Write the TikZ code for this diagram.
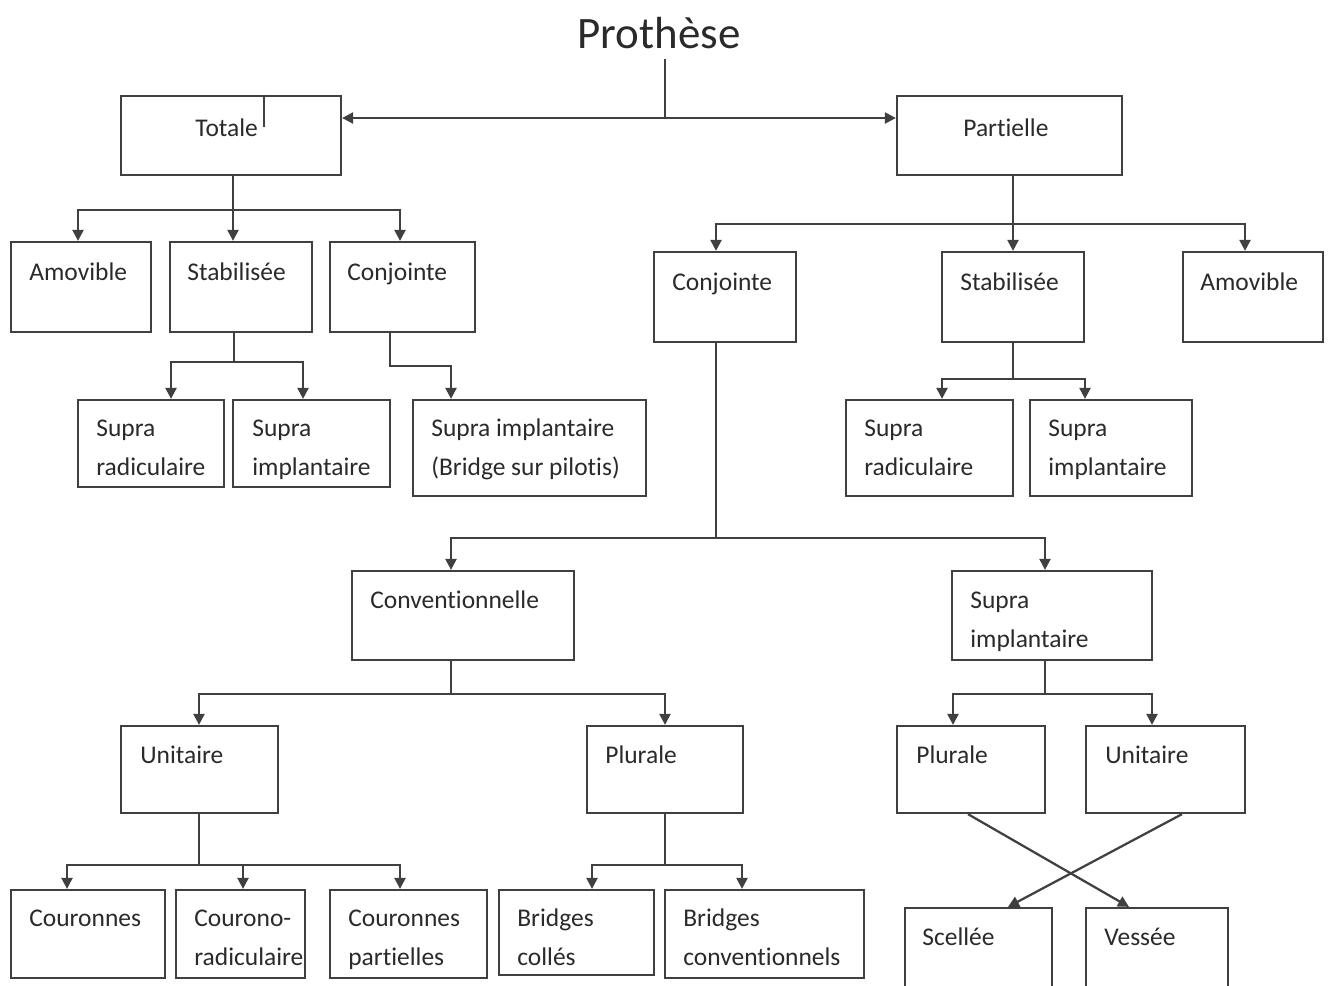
\documentclass[tikz,border=0pt]{standalone}
\usepackage{fontspec}
\setmainfont{Carlito}[Ligatures={NoCommon,NoContextual,NoRare},RawFeature={-liga;-clig;-dlig}]
\usetikzlibrary{arrows.meta,fit}
\definecolor{linec}{HTML}{404040}
\definecolor{txtc}{HTML}{2A2A2A}
\begin{document}
\begin{tikzpicture}[x=0.02cm,y=-0.02cm,
  box/.style={draw=linec,line width=0.045cm,inner sep=0pt,rectangle},
  lbl/.style={font=\fontsize{14.5}{22.1}\selectfont,text=txtc,inner sep=0pt,align=left,anchor=base west},
  conn/.style={draw=linec,line width=0.045cm},
  arr/.style={conn,-{Triangle[length=0.22cm,width=0.22cm]}}]
\useasboundingbox (0,0) rectangle (1331,985);
\clip (0,0) rectangle (1331,985);

% title
\node[font=\fontsize{25.6}{30}\selectfont,text=txtc,inner xsep=0pt,inner ysep=0.2cm,anchor=base] (ttl) at (659,48) {Prothèse};

% boxes
\node[box,fit={(121,96) (341,175)}] (tot) {};
\node[box,fit={(897,96) (1122,175)}] (par) {};
\node[box,fit={(11,242) (151,332)}] (amoL) {};
\node[box,fit={(170,242) (312,332)}] (stbL) {};
\node[box,fit={(330,242) (475,332)}] (cjL) {};
\node[box,fit={(78,400) (224,487)}] (srL) {};
\node[box,fit={(233,400) (390,487)}] (siL) {};
\node[box,fit={(413,400) (646,496)}] (bsp) {};
\node[box,fit={(654,252) (796,342)}] (cjR) {};
\node[box,fit={(942,252) (1084,342)}] (stbR) {};
\node[box,fit={(1183,252) (1323,342)}] (amoR) {};
\node[box,fit={(846,400) (1013,496)}] (srR) {};
\node[box,fit={(1030,400) (1192,496)}] (siR) {};
\node[box,fit={(352,571) (574,660)}] (conv) {};
\node[box,fit={(952,571) (1152,660)}] (simp) {};
\node[box,fit={(121,726) (278,813)}] (unL) {};
\node[box,fit={(587,726) (743,813)}] (plL) {};
\node[box,fit={(897,726) (1045,813)}] (plR) {};
\node[box,fit={(1086,726) (1245,813)}] (unR) {};
\node[box,fit={(11,890) (165,978)}] (cou) {};
\node[box,fit={(176,890) (305,978)}] (crr) {};
\node[box,fit={(330,890) (487,978)}] (cpa) {};
\node[box,fit={(499,890) (654,975)}] (bco) {};
\node[box,fit={(665,890) (864,978)}] (bcv) {};
\node[box,fit={(905,908) (1052,1010)}] (sce) {};
\node[box,fit={(1086,908) (1228,1010)}] (ves) {};

% labels (multi-line: anchor is the baseline of the last line)
\node[lbl] (totT) at (195,136) {Totale};
\node[lbl] (parT) at (963,136) {Partielle};
\node[lbl] (amoLT) at (29,280) {Amovible};
\node[lbl] (stbLT) at (187,280) {Stabilisée};
\node[lbl] (cjLT) at (347,280) {Conjointe};
\node[lbl] (srLT) at (96,475) {Supra\\radiculaire};
\node[lbl] (siLT) at (252,475) {Supra\\implantaire};
\node[lbl] (bspT) at (431,475) {Supra implantaire\\(Bridge sur pilotis)};
\node[lbl] (cjRT) at (672,290) {Conjointe};
\node[lbl] (stbRT) at (960,290) {Stabilisée};
\node[lbl] (amoRT) at (1200,290) {Amovible};
\node[lbl] (srRT) at (864,475) {Supra\\radiculaire};
\node[lbl] (siRT) at (1048,475) {Supra\\implantaire};
\node[lbl] (convT) at (370,608) {Conventionnelle};
\node[lbl] (simpT) at (970,647) {Supra\\implantaire};
\node[lbl] (unLT) at (140,763) {Unitaire};
\node[lbl] (plLT) at (605,763) {Plurale};
\node[lbl] (plRT) at (916,763) {Plurale};
\node[lbl] (unRT) at (1105,763) {Unitaire};
\node[lbl] (couT) at (29,926) {Couronnes};
\node[lbl] (crrT) at (194,965) {Courono-\\radiculaire};
\node[lbl] (cpaT) at (348,965) {Couronnes\\partielles};
\node[lbl] (bcoT) at (517,965) {Bridges\\collés};
\node[lbl] (bcvT) at (683,965) {Bridges\\conventionnels};
\node[lbl] (sceT) at (922,945) {Scellée};
\node[lbl] (vesT) at (1104,945) {Vessée};

% title connectors
\coordinate (tj) at (665,118);
\draw[conn] (ttl.south -| tj) -- (tj);
\draw[arr] (tj) -- (tot.east |- tj);
\draw[arr] (tj) -- (par.west |- tj);
\coordinate (tk) at (264,127);
\draw[conn] (tot.north -| tk) -- (tk);

% Totale
\coordinate (j1) at (233,210); \coordinate (l1) at (78,210); \coordinate (r1) at (400,210);
\draw[conn] (tot.south -| j1) -- (j1);
\draw[arr] (j1) -- (l1) -- (amoL.north -| l1);
\draw[arr] (j1) -- (stbL.north -| j1);
\draw[arr] (j1) -- (r1) -- (cjL.north -| r1);

% Stabilisee L
\coordinate (j2) at (234,362); \coordinate (l2) at (171,362); \coordinate (r2) at (303,362);
\draw[conn] (stbL.south -| j2) -- (j2);
\draw[arr] (j2) -- (l2) -- (srL.north -| l2);
\draw[arr] (j2) -- (r2) -- (siL.north -| r2);

% Conjointe L
\coordinate (j3) at (390,366); \coordinate (r3) at (451,366);
\draw[arr] (cjL.south -| j3) -- (j3) -- (r3) -- (bsp.north -| r3);

% Partielle
\coordinate (j4) at (1013,224); \coordinate (l4) at (716,224); \coordinate (r4) at (1245,224);
\draw[conn] (par.south -| j4) -- (j4);
\draw[arr] (j4) -- (l4) -- (cjR.north -| l4);
\draw[arr] (j4) -- (stbR.north -| j4);
\draw[arr] (j4) -- (r4) -- (amoR.north -| r4);

% Stabilisee R
\coordinate (j5) at (1013,379); \coordinate (l5) at (942,379); \coordinate (r5) at (1085,379);
\draw[conn] (stbR.south -| j5) -- (j5);
\draw[arr] (j5) -- (l5) -- (srR.north -| l5);
\draw[arr] (j5) -- (r5) -- (siR.north -| r5);

% Conjointe R
\coordinate (j6) at (716,538); \coordinate (l6) at (451,538); \coordinate (r6) at (1045,538);
\draw[conn] (cjR.south -| j6) -- (j6);
\draw[arr] (j6) -- (l6) -- (conv.north -| l6);
\draw[arr] (j6) -- (r6) -- (simp.north -| r6);

% Conventionnelle
\coordinate (j7) at (451,694); \coordinate (l7) at (199,694); \coordinate (r7) at (665,694);
\draw[conn] (conv.south -| j7) -- (j7);
\draw[arr] (j7) -- (l7) -- (unL.north -| l7);
\draw[arr] (j7) -- (r7) -- (plL.north -| r7);

% Supra implantaire (middle)
\coordinate (j8) at (1045,694); \coordinate (l8) at (953,694); \coordinate (r8) at (1152,694);
\draw[conn] (simp.south -| j8) -- (j8);
\draw[arr] (j8) -- (l8) -- (plR.north -| l8);
\draw[arr] (j8) -- (r8) -- (unR.north -| r8);

% Unitaire L
\coordinate (j9) at (199,865); \coordinate (l9) at (67,865); \coordinate (m9) at (243,865); \coordinate (r9) at (400,865);
\draw[conn] (unL.south -| j9) -- (j9);
\draw[arr] (j9) -- (l9) -- (cou.north -| l9);
\draw[arr] (j9) -- (m9) -- (crr.north -| m9);
\draw[arr] (m9) -- (r9) -- (cpa.north -| r9);

% Plurale L
\coordinate (j10) at (665,865); \coordinate (l10) at (592,865); \coordinate (r10) at (742,865);
\draw[conn] (plL.south -| j10) -- (j10);
\draw[arr] (j10) -- (l10) -- (bco.north -| l10);
\draw[arr] (j10) -- (r10) -- (bcv.north -| r10);

% crossing
\coordinate (xa) at (968,0); \coordinate (xb) at (1129,0);
\coordinate (xc) at (1182,0); \coordinate (xd) at (1008,0);
\draw[arr] (plR.south -| xa) -- (ves.north -| xb);
\draw[arr] (unR.south -| xc) -- (sce.north -| xd);
\end{tikzpicture}
\end{document}
